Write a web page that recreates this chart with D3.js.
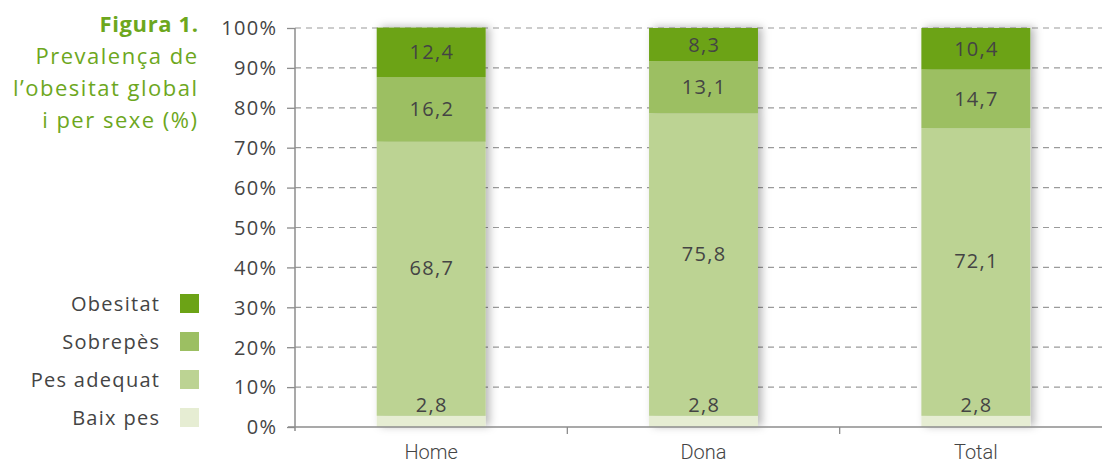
<!DOCTYPE html>
<html lang="ca">
<head>
<meta charset="utf-8">
<script src="https://cdn.jsdelivr.net/npm/d3@7"></script>
<style>
  html, body { margin: 0; padding: 0; background: #fff; }
  svg { display: block; }
  text { font-family: "Open Sans", "Noto Sans", sans-serif; }
</style>
</head>
<body>
<svg id="chart" width="1102" height="463"></svg>
<script>
// Prevalença de l'obesitat global i per sexe (%)
const categories = ["Home", "Dona", "Total"];
const seriesNames = ["Baix pes", "Pes adequat", "Sobrepès", "Obesitat"];
const baixPes    = [2.8, 2.8, 2.8];
const pesAdequat = [68.7, 75.8, 72.1];
const sobrepes   = [16.2, 13.1, 14.7];
const obesitat   = [12.4, 8.3, 10.4];
const yTicks = [0, 10, 20, 30, 40, 50, 60, 70, 80, 90, 100];
const titleLines = ["Prevalença de", "l’obesitat global", "i per sexe (%)"];
const figureLabel = "Figura 1.";

const colors = {
  "Baix pes": "#e6edd3",
  "Pes adequat": "#bcd393",
  "Sobrepès": "#9cbf62",
  "Obesitat": "#6ca316"
};
const green = "#6da71d";
const textColor = "#444";
const LS = 1.3;          // letter spacing for the grey text
const FS = "20px";

const rows = categories.map((c, i) => ({
  cat: c,
  "Baix pes": baixPes[i],
  "Pes adequat": pesAdequat[i],
  "Sobrepès": sobrepes[i],
  "Obesitat": obesitat[i]
}));

const svg = d3.select("#chart");
const W = 1102;

const x = d3.scaleBand().domain(categories).range([295, 1112])
  .paddingInner(0.6).paddingOuter(0.3);
const y = d3.scaleLinear().domain([0, 100]).range([427, 28]);

// soft shadow behind each bar
const defs = svg.append("defs");
const f = defs.append("filter").attr("id", "barShadow")
  .attr("x", "-20%").attr("y", "-10%").attr("width", "150%").attr("height", "120%");
f.append("feDropShadow").attr("dx", 4).attr("dy", -1).attr("stdDeviation", 4)
  .attr("flood-color", "#000").attr("flood-opacity", 0.28);

// horizontal dashed grid
svg.append("g").selectAll("line").data(yTicks.filter(t => t > 0)).join("line")
  .attr("x1", 295).attr("x2", W)
  .attr("y1", d => y(d)).attr("y2", d => y(d))
  .attr("stroke", "#9a9a9a").attr("stroke-width", 1.2)
  .attr("stroke-dasharray", "6,5");

// y axis
const yAxis = d3.axisLeft(y).tickValues(yTicks).tickSize(8).tickPadding(11 - LS)
  .tickFormat(d => d + "%");
const gy = svg.append("g").attr("transform", "translate(295,0)").call(yAxis);
gy.select(".domain").attr("d", `M0,${y(100)}V${y(0) + 4}`).attr("stroke", "#8c8c8c").attr("stroke-width", 1.5);
gy.selectAll(".tick line").attr("stroke", "#8c8c8c").attr("stroke-width", 1.3);
gy.selectAll(".tick text").attr("fill", textColor).style("font-size", FS)
  .style("letter-spacing", LS + "px")
  .style("font-family", "'Open Sans', sans-serif").attr("dy", "0.34em");

// stacked bars
const stacked = d3.stack().keys(seriesNames)(rows);

const perBar = svg.append("g").selectAll("g.bar").data(categories).join("g")
  .attr("class", "bar").attr("filter", "url(#barShadow)");
perBar.each(function (cat, i) {
  const g = d3.select(this);
  stacked.forEach(layer => {
    const seg = layer[i];
    g.append("rect")
      .attr("x", x(cat)).attr("width", x.bandwidth())
      .attr("y", y(seg[1])).attr("height", y(seg[0]) - y(seg[1]))
      .attr("fill", colors[layer.key]);
  });
});

// x axis: baseline, ticks between categories, labels
const gx = svg.append("g");
gx.append("line").attr("x1", 288).attr("x2", W).attr("y1", y(0)).attr("y2", y(0))
  .attr("stroke", "#8c8c8c").attr("stroke-width", 1.5);
const [r0] = x.range();
gx.selectAll("line.tk").data(d3.range(1, categories.length)).join("line").attr("class", "tk")
  .attr("x1", k => r0 + k * x.step()).attr("x2", k => r0 + k * x.step())
  .attr("y1", y(0)).attr("y2", y(0) + 7)
  .attr("stroke", "#8c8c8c").attr("stroke-width", 1.3);
gx.selectAll("text").data(categories).join("text")
  .attr("x", d => x(d) + x.bandwidth() / 2).attr("y", 459)
  .attr("text-anchor", "middle").attr("fill", textColor)
  .style("font-family", "Roboto, sans-serif").style("font-weight", 300)
  .style("font-size", "20px").text(d => d);

// value labels
const fmt = v => String(v).replace(".", ",");
const labG = svg.append("g").style("font-size", FS).style("letter-spacing", LS + "px");
categories.forEach((cat, i) => {
  const cx = x(cat) + x.bandwidth() / 2 + LS / 2;
  const bottomTop = y(stacked[0][i][1]);
  // bottom segment label sits just above its thin bar
  labG.append("text").attr("x", cx).attr("y", bottomTop - 3.5)
    .attr("text-anchor", "middle").attr("fill", textColor)
    .text(fmt(baixPes[i]));
  stacked.slice(1).forEach((layer, k) => {
    const seg = layer[i];
    let lo = y(seg[0]);
    // middle segment: centre within the space left above the bottom label
    if (k === 0) lo = bottomTop - 22;
    const cy = (lo + y(seg[1])) / 2;
    labG.append("text").attr("x", cx).attr("y", cy).attr("dy", "0.35em")
      .attr("text-anchor", "middle").attr("fill", textColor)
      .text(fmt(seg.data[layer.key]));
  });
});

// title block
const TLS = 1.5;
const tg = svg.append("g").attr("text-anchor", "end").style("letter-spacing", TLS + "px");
tg.append("text").attr("x", 197 + TLS).attr("y", 32).attr("fill", green)
  .style("font-weight", 700).style("font-size", "22px").style("letter-spacing", "0.6px")
  .text(figureLabel);
titleLines.forEach((t, i) => {
  tg.append("text").attr("x", 197 + TLS).attr("y", 64 + i * 32).attr("fill", green)
    .style("font-size", "22px").text(t);
});

// legend (top to bottom: Obesitat ... Baix pes)
const legendItems = seriesNames.slice().reverse();
const lg = svg.append("g").selectAll("g").data(legendItems).join("g")
  .attr("transform", (d, i) => `translate(0,${294 + i * 38})`);
lg.append("rect").attr("x", 180).attr("y", 0).attr("width", 19).attr("height", 19)
  .attr("fill", d => colors[d]);
lg.append("text").attr("x", 159 + LS).attr("y", 17).attr("text-anchor", "end")
  .attr("fill", textColor).style("font-size", FS).style("letter-spacing", LS + "px")
  .text(d => d);
</script>
</body>
</html>
